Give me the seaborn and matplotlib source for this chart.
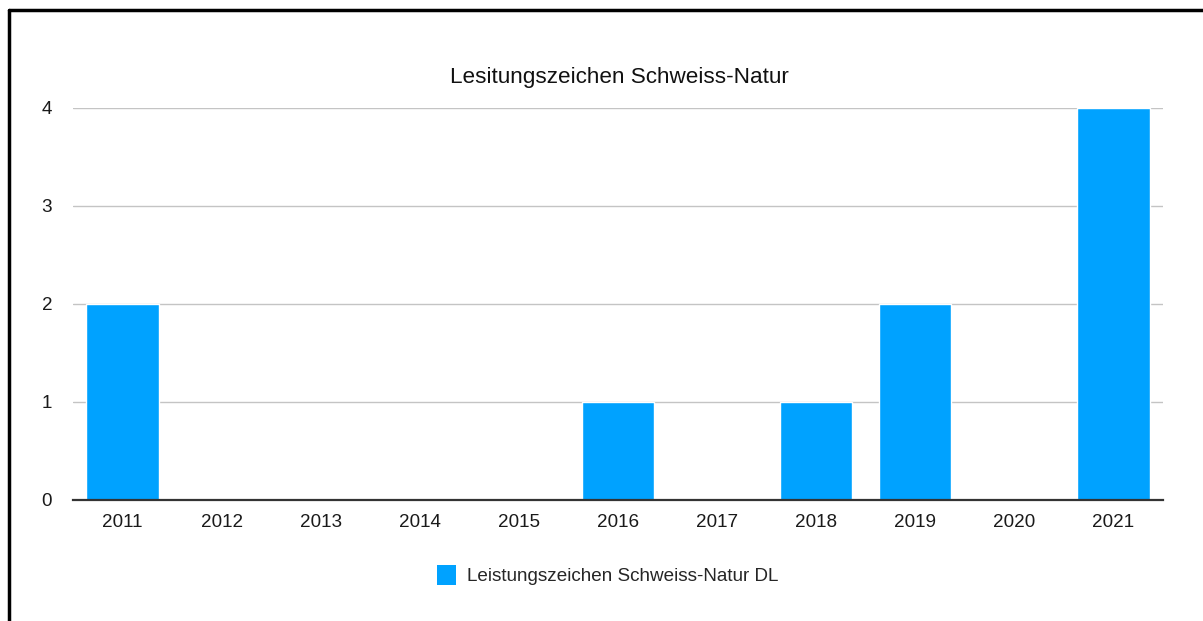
import matplotlib
matplotlib.use("Agg")
import matplotlib.pyplot as plt
import seaborn as sns
import pandas as pd
from matplotlib.patches import Patch
from matplotlib.lines import Line2D

years = ["2011", "2012", "2013", "2014", "2015", "2016", "2017", "2018", "2019", "2020", "2021"]
values = [2, 0, 0, 0, 0, 1, 0, 1, 2, 0, 4]
series_name = "Leistungszeichen Schweiss-Natur DL"
title = "Lesitungszeichen Schweiss-Natur"
yticks = [0, 1, 2, 3, 4]

sns.set_theme(style="white")
plt.rcParams['font.family'] = ['Liberation Sans', 'DejaVu Sans']

df = pd.DataFrame({"year": years, "value": values})

fig = plt.figure(figsize=(12.03, 6.21), dpi=100)
ax = fig.add_axes([73/1203, 1 - 500/621, (1163 - 73)/1203, (500 - 108)/621])

color = "#00A2FF"
sns.barplot(data=df, x="year", y="value", color=color, width=0.73,
            saturation=1, ax=ax, zorder=3)

ax.set_xlim(-0.5, len(years) - 0.5)
ax.set_ylim(0, 4)
ax.set_yticks(yticks)
ax.set_yticklabels([str(t) for t in yticks])
ax.set_xlabel("")
ax.set_ylabel("")
ax.yaxis.grid(True, color="#c4c4c4", linewidth=1, zorder=0)
ax.xaxis.grid(False)
for s in ["left", "right", "top"]:
    ax.spines[s].set_visible(False)
ax.spines["bottom"].set_color("#333333")
ax.spines["bottom"].set_linewidth(1.6)
ax.spines["bottom"].set_zorder(4)
ax.tick_params(axis="both", length=0, labelsize=13.6, colors="#1a1a1a")
ax.tick_params(axis="y", pad=15)
ax.tick_params(axis="x", pad=10)

fig.text(619/1203, 1 - 77/621, title, ha="center", va="center", fontsize=16.2, color="#111111")

handle = Patch(facecolor=color, edgecolor="none")
fig.legend([handle], [series_name], loc="center", bbox_to_anchor=(608/1203, 1 - 575/621),
           frameon=False, fontsize=13.6, handlelength=1.0, handleheight=1.3,
           handletextpad=0.6)

# outer border (left and top)
fig.add_artist(Line2D([9/1203, 9/1203], [0, 1 - 10/621], transform=fig.transFigure,
                      color="black", linewidth=2.5))
fig.add_artist(Line2D([9/1203, 1], [1 - 10/621, 1 - 10/621], transform=fig.transFigure,
                      color="black", linewidth=2.5))

fig.savefig("out.png", dpi=100)
